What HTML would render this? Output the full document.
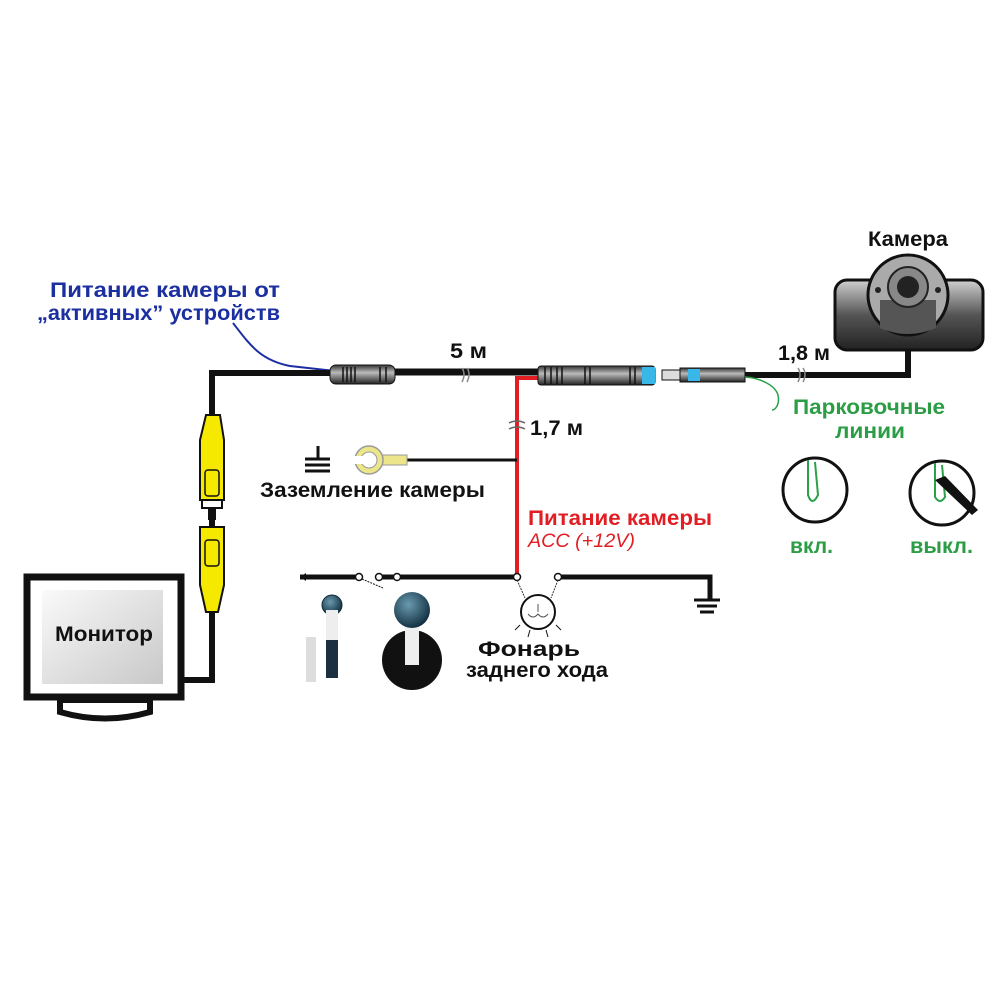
<!DOCTYPE html>
<html><head><meta charset="utf-8"><style>
html,body{margin:0;padding:0;background:#fff;}
svg{display:block;font-family:"Liberation Sans","DejaVu Sans",sans-serif;}
</style></head><body>
<svg width="1000" height="1000" viewBox="0 0 1000 1000" xmlns="http://www.w3.org/2000/svg">
<defs>
<linearGradient id="scr" x1="0" y1="0" x2="1" y2="1"><stop offset="0" stop-color="#fafafa"/><stop offset="1" stop-color="#c8c8c8"/></linearGradient>
<linearGradient id="cam" x1="0" y1="0" x2="0" y2="1"><stop offset="0" stop-color="#d0d0d0"/><stop offset="0.5" stop-color="#555"/><stop offset="1" stop-color="#222"/></linearGradient>
<linearGradient id="conn" x1="0" y1="0" x2="0" y2="1"><stop offset="0" stop-color="#333"/><stop offset="0.4" stop-color="#bbb"/><stop offset="1" stop-color="#222"/></linearGradient>
<radialGradient id="knob" cx="0.4" cy="0.35" r="0.7"><stop offset="0" stop-color="#6a9ab0"/><stop offset="1" stop-color="#0d2a3a"/></radialGradient>
</defs>

<path d="M233,323 C250,345 260,360 290,366 L335,371" stroke="#1b2fa0" stroke-width="2" fill="none"/>
<polyline points="183,680 212,680 212,373 335,373" stroke="#111" stroke-width="6" fill="none"/>
<line x1="395" y1="372" x2="540" y2="372" stroke="#111" stroke-width="7"/>
<line x1="745" y1="375" x2="910" y2="375" stroke="#111" stroke-width="6"/>
<line x1="908" y1="345" x2="908" y2="378" stroke="#111" stroke-width="6"/>
<path d="M462,382 q4,-8 0,-14 M467,382 q4,-8 0,-14" stroke="#888" stroke-width="1.5" fill="none"/>
<path d="M798,382 q4,-8 0,-14 M803,382 q4,-8 0,-14" stroke="#888" stroke-width="1.5" fill="none"/>
<polyline points="540,378 517,378 517,578" stroke="#e01e24" stroke-width="4" fill="none"/>
<path d="M509,423 q8,-4 16,0 M509,429 q8,-4 16,0" stroke="#666" stroke-width="1.5" fill="none"/>
<line x1="405" y1="460" x2="517" y2="460" stroke="#111" stroke-width="3"/>
<!-- ring terminal -->
<path d="M380,455 L407,455 L407,465 L380,465 Z" fill="#ede58a" stroke="#999"/>
<circle cx="369" cy="460" r="14" fill="#ede58a" stroke="#999" stroke-width="1.5"/>
<circle cx="369" cy="460" r="8" fill="#fff" stroke="#999" stroke-width="1"/>
<rect x="350" y="456" width="14" height="8" fill="#fff"/>
<g stroke="#111" stroke-width="3"><line x1="318" y1="446" x2="318" y2="458"/><line x1="305" y1="459" x2="330" y2="459"/><line x1="305" y1="465" x2="330" y2="465"/><line x1="305" y1="471" x2="330" y2="471"/></g>

<rect x="330" y="365" width="65" height="19" rx="6" fill="url(#conn)" stroke="#111"/>
<g stroke="#111" stroke-width="1.5"><line x1="343" y1="367" x2="343" y2="382"/><line x1="347" y1="367" x2="347" y2="382"/><line x1="351" y1="367" x2="351" y2="382"/><line x1="355" y1="367" x2="355" y2="382"/><line x1="380" y1="367" x2="380" y2="382"/><line x1="386" y1="367" x2="386" y2="382"/></g>
<rect x="538" y="366" width="117" height="19" rx="3" fill="url(#conn)" stroke="#111"/>
<rect x="642" y="367" width="13" height="17" fill="#39b7e8"/>
<g stroke="#111" stroke-width="1.5"><line x1="545" y1="367" x2="545" y2="384"/><line x1="551" y1="367" x2="551" y2="384"/><line x1="557" y1="367" x2="557" y2="384"/><line x1="562" y1="367" x2="562" y2="384"/><line x1="585" y1="367" x2="585" y2="384"/><line x1="590" y1="367" x2="590" y2="384"/><line x1="630" y1="367" x2="630" y2="384"/><line x1="635" y1="367" x2="635" y2="384"/></g>
<rect x="662" y="370" width="20" height="10" fill="#ddd" stroke="#111"/>
<rect x="680" y="368" width="65" height="14" fill="url(#conn)" stroke="#111"/>
<rect x="688" y="369" width="12" height="12" fill="#39b7e8"/>
<path d="M745,377 C760,378 775,385 778,395 C780,405 775,410 772,410" stroke="#2aa04a" stroke-width="1.5" fill="none"/>

<!-- camera -->
<rect x="835" y="280" width="148" height="70" rx="12" fill="url(#cam)" stroke="#111" stroke-width="3"/>
<circle cx="908" cy="295" r="40" fill="#aaa" stroke="#111" stroke-width="3"/>
<path d="M880,300 L880,328 Q908,340 936,328 L936,300 Z" fill="#555"/>
<circle cx="908" cy="287" r="20" fill="#888" stroke="#222" stroke-width="2"/>
<circle cx="908" cy="287" r="11" fill="#222"/>
<circle cx="878" cy="290" r="3" fill="#222"/><circle cx="938" cy="290" r="3" fill="#222"/>

<path d="M206,415 L220,415 L224,440 L224,500 L200,500 L200,440 Z" fill="#f5e900" stroke="#111" stroke-width="2"/>
<rect x="205" y="470" width="14" height="26" rx="3" fill="none" stroke="#111" stroke-width="1.5"/>
<rect x="202" y="500" width="20" height="8" fill="#fff" stroke="#111" stroke-width="2"/>
<rect x="208" y="508" width="8" height="12" fill="#111"/>
<path d="M200,527 L224,527 L224,585 L218,612 L206,612 L200,585 Z" fill="#f5e900" stroke="#111" stroke-width="2"/>
<rect x="205" y="540" width="14" height="26" rx="3" fill="none" stroke="#111" stroke-width="1.5"/>

<rect x="27" y="577" width="154" height="120" fill="#fff" stroke="#111" stroke-width="7"/>
<rect x="42" y="590" width="121" height="94" fill="url(#scr)"/>
<path d="M60,700 L150,700 L150,712 Q105,725 60,712 Z" fill="#fff" stroke="#111" stroke-width="6"/>

<polyline points="300,577 360,577" stroke="#111" stroke-width="5" fill="none"/>
<path d="M300,577 l6,-4 v8 z" fill="#111"/>
<line x1="380" y1="577" x2="517" y2="577" stroke="#111" stroke-width="5"/>
<polyline points="558,577 710,577 710,600" stroke="#111" stroke-width="5" fill="none"/>
<g stroke="#111" stroke-width="3"><line x1="694" y1="600" x2="720" y2="600"/><line x1="697" y1="606" x2="717" y2="606"/><line x1="700" y1="612" x2="714" y2="612"/></g>
<g fill="#fff" stroke="#111" stroke-width="1.5"><circle cx="359" cy="577" r="3.5"/><circle cx="379" cy="577" r="3.5"/><circle cx="397" cy="577" r="3.5"/><circle cx="517" cy="577" r="3.5"/><circle cx="558" cy="577" r="3.5"/></g>
<line x1="362" y1="579" x2="383" y2="588" stroke="#111" stroke-width="1" stroke-dasharray="2,1"/>
<path d="M517,580 L525,598 M558,580 L551,598" stroke="#333" stroke-width="1" stroke-dasharray="2,1"/>
<circle cx="538" cy="612" r="17" fill="#fff" stroke="#111" stroke-width="2"/>
<path d="M528,614 q5,6 10,0 q5,6 10,0 M538,604 v8" stroke="#555" stroke-width="1" fill="none"/>
<g stroke="#111" stroke-width="1"><line x1="520" y1="625" x2="515" y2="630"/><line x1="530" y1="630" x2="528" y2="637"/><line x1="546" y1="630" x2="548" y2="637"/><line x1="556" y1="625" x2="561" y2="630"/></g>

<circle cx="332" cy="605" r="10" fill="url(#knob)" stroke="#0d2a3a"/>
<rect x="326" y="610" width="12" height="40" fill="#eee"/>
<rect x="326" y="640" width="12" height="38" fill="#1a3040"/>
<rect x="306" y="637" width="10" height="45" fill="#ddd"/>
<ellipse cx="412" cy="660" rx="30" ry="30" fill="#111"/>
<rect x="405" y="620" width="14" height="45" fill="#eee"/>
<circle cx="412" cy="610" r="18" fill="url(#knob)"/>

<circle cx="815" cy="490" r="32" fill="#fff" stroke="#111" stroke-width="3"/>
<path d="M808,460 L808,495 Q812,507 818,495 L815,462" stroke="#2aa04a" stroke-width="2" fill="none"/>
<circle cx="942" cy="493" r="32" fill="#fff" stroke="#111" stroke-width="3"/>
<path d="M935,463 L935,497 Q940,505 945,497 L942,465" stroke="#2aa04a" stroke-width="2" fill="none"/>
<path d="M935,480 L972,515 L978,510 L945,476 Z" fill="#111"/>

<g font-weight="bold" font-size="21" lengthAdjust="spacingAndGlyphs">
<text x="50" y="297" fill="#1b2fa0" textLength="230" lengthAdjust="spacingAndGlyphs">Питание камеры от</text>
<text x="37" y="320" fill="#1b2fa0" textLength="243" lengthAdjust="spacingAndGlyphs">„активных” устройств</text>
<text x="868" y="246" fill="#111" textLength="80" lengthAdjust="spacingAndGlyphs">Камера</text>
<text x="450" y="358" fill="#111" textLength="37" lengthAdjust="spacingAndGlyphs">5 м</text>
<text x="778" y="360" fill="#111" textLength="52" lengthAdjust="spacingAndGlyphs">1,8 м</text>
<text x="530" y="435" fill="#111" textLength="53" lengthAdjust="spacingAndGlyphs">1,7 м</text>
<text x="260" y="497" fill="#111" textLength="225" lengthAdjust="spacingAndGlyphs">Заземление камеры</text>
<text x="528" y="525" fill="#e01e24" textLength="184" lengthAdjust="spacingAndGlyphs">Питание камеры</text>
<text x="793" y="414" fill="#2a9d45" textLength="152" lengthAdjust="spacingAndGlyphs">Парковочные</text>
<text x="835" y="438" fill="#2a9d45" textLength="70" lengthAdjust="spacingAndGlyphs">линии</text>
<text x="790" y="553" fill="#2a9d45" textLength="43" lengthAdjust="spacingAndGlyphs">вкл.</text>
<text x="910" y="553" fill="#2a9d45" textLength="63" lengthAdjust="spacingAndGlyphs">выкл.</text>
<text x="55" y="641" fill="#111" textLength="98" lengthAdjust="spacingAndGlyphs">Монитор</text>
<text x="478" y="656" fill="#111" textLength="102" lengthAdjust="spacingAndGlyphs">Фонарь</text>
<text x="466" y="677" fill="#111" textLength="142" lengthAdjust="spacingAndGlyphs">заднего хода</text>
</g>
<text x="528" y="547" font-size="19" font-style="italic" fill="#e01e24" textLength="107" lengthAdjust="spacingAndGlyphs">ACC (+12V)</text>
</svg>
</body></html>
